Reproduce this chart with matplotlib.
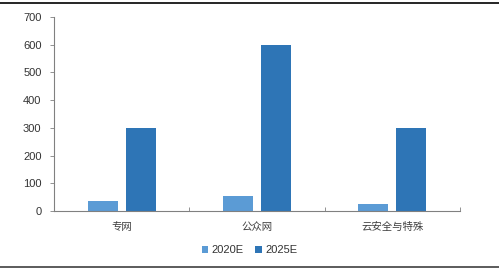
import numpy as np
import matplotlib
matplotlib.use("Agg")
import matplotlib.pyplot as plt
from matplotlib.lines import Line2D

plt.rcParams['font.family'] = ['Liberation Sans', 'Noto Sans CJK SC', 'DejaVu Sans']

# data
categories = ["专网", "公众网", "云安全与特殊"]
series_names = ["2020E", "2025E"]
values_2020 = [35, 53, 25]
values_2025 = [300, 600, 300]
yticks = [0, 100, 200, 300, 400, 500, 600, 700]

c_light = "#5B9BD5"
c_dark = "#2E75B6"

fig = plt.figure(figsize=(4.99, 2.71), dpi=100)
ax = fig.add_axes([54 / 499, 1 - 211 / 271, (460 - 54) / 499, (211 - 17) / 271])

x = np.arange(len(categories))
w = 0.22
ax.bar(x - 0.14, values_2020, w, color=c_light, label=series_names[0])
ax.bar(x + 0.14, values_2025, w, color=c_dark, label=series_names[1])

ax.set_xlim(-0.5, len(categories) - 0.5)
ax.set_ylim(0, 700)
ax.set_yticks(yticks)
ax.set_yticklabels([str(v) for v in yticks], fontsize=8, color="#333333")
ax.set_xticks(x)
ax.set_xticklabels(categories, fontsize=7.5, color="#404040")
ax.tick_params(axis="x", length=0, pad=8)
ax.tick_params(axis="y", length=3, width=0.6, color="#808080", pad=6)

# boundary ticks between categories
ax.set_xticks(np.arange(-0.5, len(categories)), minor=True)
ax.tick_params(axis="x", which="minor", length=3, width=0.6, color="#808080", direction="in")

for s in ["top", "right"]:
    ax.spines[s].set_visible(False)
for s in ["left", "bottom"]:
    ax.spines[s].set_color("#808080")
    ax.spines[s].set_linewidth(0.8)

leg = fig.legend(loc="center", bbox_to_anchor=(0.5, 1 - 250 / 271), ncol=2, frameon=False,
                 fontsize=8, handlelength=0.6, handleheight=0.6, handletextpad=0.3,
                 columnspacing=1.0)
for t in leg.get_texts():
    t.set_color("#333333")

# frame lines at top and bottom
fig.add_artist(Line2D([0, 1], [1 - 2.5 / 271, 1 - 2.5 / 271], color="black", lw=1.2))
fig.add_artist(Line2D([0, 1], [1 - 267 / 271, 1 - 267 / 271], color="#404040", lw=1.2))

fig.savefig("out.png", dpi=100)
